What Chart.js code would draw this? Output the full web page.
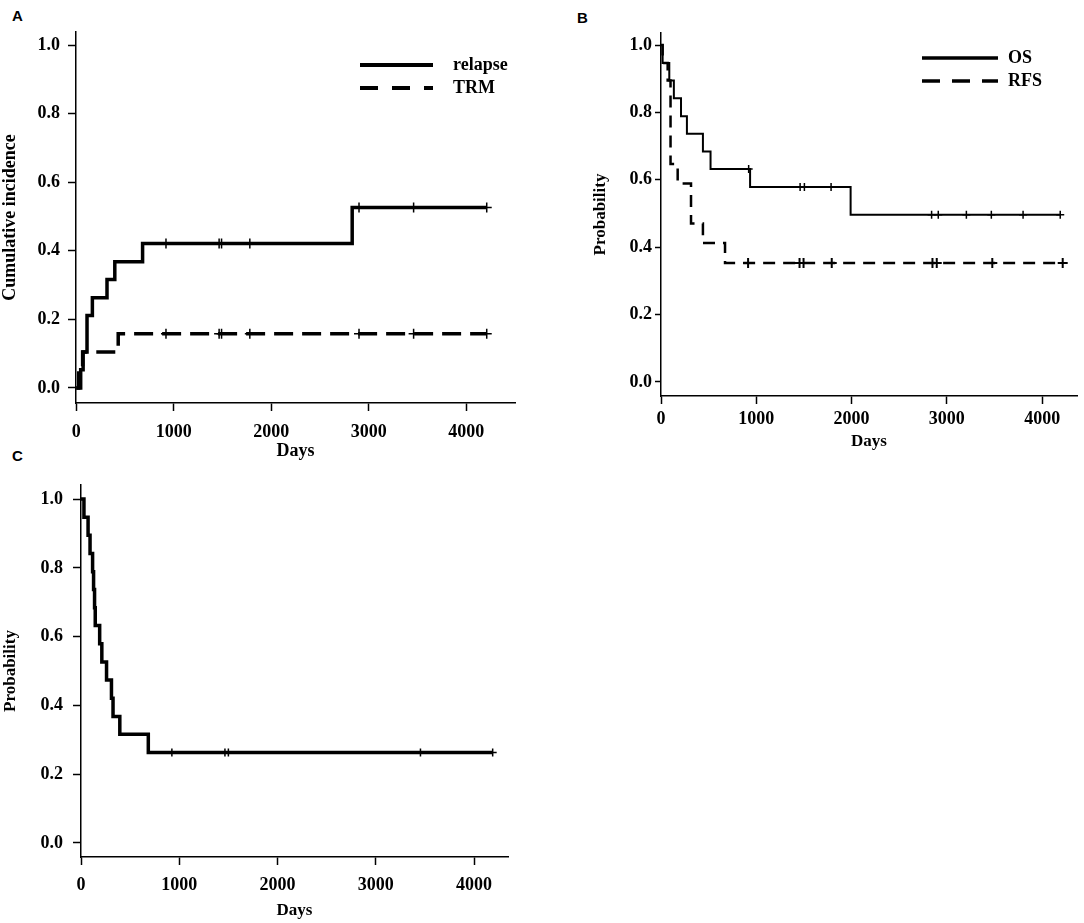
<!DOCTYPE html>
<html>
<head>
<meta charset="utf-8">
<script src="https://cdn.jsdelivr.net/npm/chart.js@4"></script>
<style>
    body { margin: 0; background: #fff; width: 1084px; height: 923px; position: relative; overflow: hidden; }
    canvas { position: absolute; }
    .panel { position: absolute; font: bold 15px "Liberation Sans", Arial, sans-serif; line-height: 15px; color: #000; }
</style>
</head>
<body>
<div class="panel" style="left:12px;top:8px">A</div>
<div class="panel" style="left:577px;top:10px">B</div>
<div class="panel" style="left:12px;top:448px">C</div>
<canvas id="chartA" width="540" height="465" style="left:0;top:0"></canvas>
<canvas id="chartB" width="524" height="460" style="left:560px;top:0"></canvas>
<canvas id="chartC" width="540" height="463" style="left:0;top:460px"></canvas>
<script>
// Tick labels shared by the three panels
const dayTicks = [0, 1000, 2000, 3000, 4000];
const probTicks = [0, 0.2, 0.4, 0.6, 0.8, 1.0];

// Panel A - cumulative incidence of relapse and TRM
const relapseDays = [0, 45, 70, 110, 165, 315, 395, 680, 2830, 4210];
const relapseInc = [0, 0.053, 0.105, 0.211, 0.263, 0.316, 0.368, 0.421, 0.526, 0.526];
const relapseCensorDays = [920, 1465, 1490, 1780, 2900, 3460, 4210];
const relapseCensorInc = [0.421, 0.421, 0.421, 0.421, 0.526, 0.526, 0.526];
const trmDays = [0, 25, 65, 430, 4210];
const trmInc = [0, 0.053, 0.105, 0.158, 0.158];
const trmCensorDays = [920, 1465, 1490, 1780, 2900, 3460, 4210];
const trmCensorInc = [0.158, 0.158, 0.158, 0.158, 0.158, 0.158, 0.158];

// Panel B - OS and RFS
const osDays = [0, 17, 87, 135, 210, 272, 440, 520, 935, 1990, 4190];
const osProb = [1, 0.947, 0.895, 0.842, 0.789, 0.737, 0.684, 0.632, 0.579, 0.496, 0.496];
const osCensorDays = [920, 1460, 1505, 1785, 2840, 2910, 3205, 3467, 3800, 4190];
const osCensorProb = [0.632, 0.579, 0.579, 0.579, 0.496, 0.496, 0.496, 0.496, 0.496, 0.496];
const rfsDays = [0, 17, 70, 100, 175, 315, 440, 672, 4216];
const rfsProb = [1, 0.947, 0.895, 0.647, 0.589, 0.47, 0.412, 0.353, 0.353];
const rfsCensorDays = [914, 1454, 1496, 1792, 2849, 2894, 3477, 4216];
const rfsCensorProb = [0.353, 0.353, 0.353, 0.353, 0.353, 0.353, 0.353, 0.353];

// Panel C - single survival curve
const cDays = [0, 30, 72, 92, 118, 128, 138, 145, 190, 212, 260, 310, 326, 395, 685, 4190];
const cProb = [1, 0.947, 0.895, 0.842, 0.789, 0.737, 0.684, 0.632, 0.579, 0.526, 0.474, 0.421, 0.368, 0.316, 0.263, 0.263];
const cCensorDays = [925, 1465, 1500, 3455, 4190];
const cCensorProb = [0.263, 0.263, 0.263, 0.263, 0.263];

const serif = "'Liberation Serif', 'Times New Roman', serif";

function points(xs, ys) {
    return xs.map((x, i) => ({ x: x, y: ys[i] }));
}

function curve(label, xs, ys, width, dash) {
    return {
        label: label,
        data: points(xs, ys),
        stepped: "before",
        borderColor: "#000",
        borderWidth: width,
        borderDash: dash || [],
        pointRadius: 0,
        fill: false
    };
}

function censors(xs, ys, radius, width) {
    return {
        label: "",
        data: points(xs, ys),
        showLine: false,
        pointStyle: "cross",
        pointRadius: radius,
        pointBorderWidth: width,
        pointBorderColor: "#000",
        borderColor: "#000"
    };
}

// Simple key drawn in the top right of a panel
const lineKey = {
    id: "lineKey",
    afterDraw(chart, args, opts) {
        if (!opts.items) return;
        const ctx = chart.ctx;
        ctx.save();
        opts.items.forEach((idx, i) => {
            const ds = chart.data.datasets[idx];
            const y = opts.y + i * opts.step;
            ctx.beginPath();
            ctx.setLineDash(ds.borderDash.length ? opts.dash : []);
            ctx.lineWidth = opts.lineWidth;
            ctx.strokeStyle = "#000";
            ctx.moveTo(opts.x1, y);
            ctx.lineTo(opts.x2, y);
            ctx.stroke();
            ctx.setLineDash([]);
            ctx.fillStyle = "#000";
            ctx.font = "bold 18px " + serif;
            ctx.textBaseline = "middle";
            ctx.fillText(ds.label, opts.textX, y);
        });
        ctx.restore();
    }
};

function makePanel(id, datasets, p) {
    const ctx = document.getElementById(id).getContext("2d");
    const tickFont = { family: serif, size: 18, weight: "bold" };
    const titleFont = { family: serif, size: p.titleSize || 17, weight: "bold" };
    new Chart(ctx, {
        type: "line",
        data: { datasets: datasets },
        plugins: [lineKey],
        options: {
            responsive: false,
            animation: false,
            layout: { padding: { top: p.top, right: p.right, left: 0, bottom: 0 } },
            plugins: {
                legend: { display: false },
                tooltip: { enabled: false },
                lineKey: p.key || {}
            },
            scales: {
                x: {
                    type: "linear",
                    min: p.xMin,
                    max: p.xMax,
                    afterBuildTicks: (s) => { s.ticks = dayTicks.map(v => ({ value: v })); },
                    afterFit: (s) => { s.height = p.xHeight; },
                    border: { display: true, color: "#000", width: 1.5 },
                    grid: { display: true, drawOnChartArea: false, drawTicks: true, tickLength: 8, tickWidth: 1.5, color: "#000", tickColor: "#000" },
                    ticks: { color: "#000", font: tickFont, padding: p.xPad, autoSkip: false, maxRotation: 0, callback: (v) => String(v) },
                    title: { display: true, text: "Days", color: "#000", font: titleFont, padding: { top: 0, bottom: p.xTitlePad } }
                },
                y: {
                    type: "linear",
                    min: p.yMin,
                    max: p.yMax,
                    afterBuildTicks: (s) => { s.ticks = probTicks.map(v => ({ value: v })); },
                    afterFit: (s) => { s.width = p.yWidth; },
                    border: { display: true, color: "#000", width: 1.5 },
                    grid: { display: true, drawOnChartArea: false, drawTicks: true, tickLength: p.yTick, tickWidth: 1.5, color: "#000", tickColor: "#000" },
                    ticks: { color: "#000", font: tickFont, padding: p.yPad, callback: (v) => v.toFixed(1) },
                    title: { display: true, text: p.yTitle, color: "#000", font: titleFont, padding: { top: p.yTitlePad, bottom: 0 } }
                }
            }
        }
    });
}

makePanel("chartA", [
    curve("relapse", relapseDays, relapseInc, 3.5),
    curve("TRM", trmDays, trmInc, 3.5, [19, 9]),
    censors(relapseCensorDays, relapseCensorInc, 5, 1.5),
    censors(trmCensorDays, trmCensorInc, 5, 1.5)
], {
    top: 32, right: 25, yWidth: 76, xHeight: 62,
    xMin: -3, xMax: 4500, yMin: -0.044, yMax: 1.038,
    xPad: 11, yPad: 8, yTick: 8, xTitlePad: 3, yTitlePad: 0,
    yTitle: "Cumulative incidence", titleSize: 18,
    key: { items: [0, 1], x1: 360, x2: 433, textX: 453, y: 65, step: 23, lineWidth: 4, dash: [18, 14] }
});

makePanel("chartB", [
    curve("OS", osDays, osProb, 2),
    curve("RFS", rfsDays, rfsProb, 2.5, [12, 8]),
    censors(osCensorDays, osCensorProb, 4, 1.5),
    censors(rfsCensorDays, rfsCensorProb, 5, 2)
], {
    top: 33, right: 6, yWidth: 101, xHeight: 64,
    xMin: 0, xMax: 4366, yMin: -0.042, yMax: 1.036,
    xPad: 5, yPad: 3, yTick: 6, xTitlePad: 8, yTitlePad: 30,
    yTitle: "Probability",
    key: { items: [0, 1], x1: 362, x2: 438, textX: 448, y: 58, step: 23, lineWidth: 3.5, dash: [18, 12] }
});

makePanel("chartC", [
    curve("", cDays, cProb, 3.5),
    censors(cCensorDays, cCensorProb, 4, 1.5)
], {
    top: 25, right: 32, yWidth: 81, xHeight: 66,
    xMin: 0, xMax: 4346, yMin: -0.041, yMax: 1.041,
    xPad: 10, yPad: 10, yTick: 8, xTitlePad: 2, yTitlePad: 0,
    yTitle: "Probability"
});
</script>
</body>
</html>
